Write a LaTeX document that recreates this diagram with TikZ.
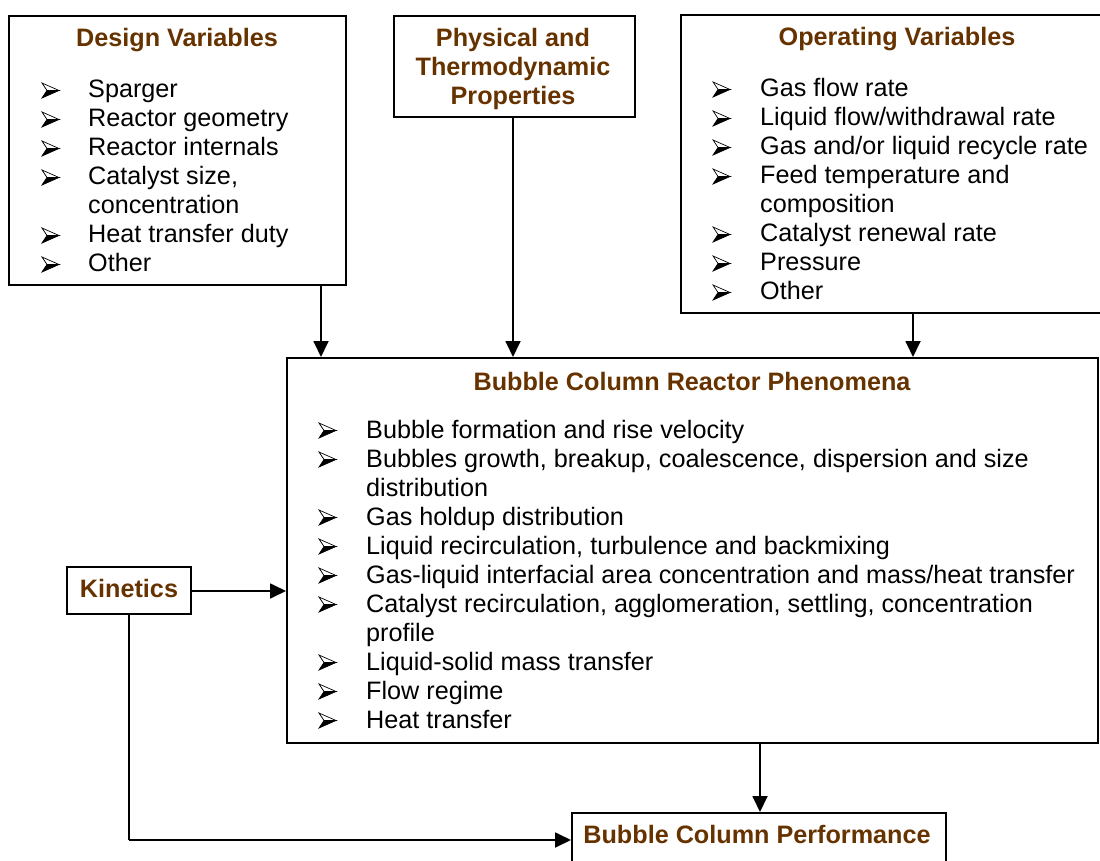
\documentclass[tikz,border=0pt]{standalone}
\usepackage{fontspec}
\setmainfont{Liberation Sans}
\usetikzlibrary{arrows.meta}
\definecolor{titlebrown}{HTML}{663300}
\newcommand\listfont{\fontsize{25.2}{29}\selectfont}
\tikzset{
  box/.style={draw, line width=2pt, anchor=north west, inner sep=0pt},
  boxtitle/.style={font=\fontsize{25.2}{29}\selectfont\bfseries, text=titlebrown, anchor=base, inner sep=0pt, align=center},
  itemlist/.style={anchor=base west, inner sep=0pt, font=\listfont, align=left},
  arr/.style={line width=1.8pt, -{Triangle[length=16pt,width=15pt]}},
  link/.style={line width=1.8pt},
  % three-d arrowhead bullet, origin on the text baseline
  pics/bullet/.style={code={
    \filldraw[line width=0.7pt, line join=miter, fill=white] (0,-15) -- (17,-7.5) -- (5,-7.5) -- cycle;
    \filldraw[line width=0.7pt, line join=miter] (0,0) -- (17,-7.5) -- (5,-7.5) -- cycle;
  }}
}
\begin{document}
\begin{tikzpicture}[x=1pt,y=-1pt]
\useasboundingbox (0,0) rectangle (1100,861);

% boxes
\node[box, minimum width=337pt, minimum height=269pt] (design) at (8,15) {};
\node[box, minimum width=241pt, minimum height=101pt] (phys) at (393,15) {};
\node[box, minimum width=430pt, minimum height=298pt] (oper) at (680,14) {};
\node[box, minimum width=811pt, minimum height=385pt] (main) at (286,357) {};
\node[box, minimum width=124pt, minimum height=47pt] (kin) at (66,566) {};
\node[box, minimum width=374pt, minimum height=60pt] (perf) at (571,812) {};

% titles
\node[boxtitle] (designT) at (177,47) {Design Variables};
\node[boxtitle] (physT1) at (513,47) {Physical and};
\node[boxtitle] (physT2) at (513,76) {Thermodynamic};
\node[boxtitle] (physT3) at (513,105) {Properties};
\node[boxtitle] (operT) at (897,46) {Operating Variables};
\node[boxtitle] (mainT) at (692,390) {Bubble Column Reactor Phenomena};
\node[boxtitle] (kinT) at (129,597) {Kinetics};
\node[boxtitle] (perfT) at (757,843) {Bubble Column Performance};

% lists
\node[itemlist] (designL) at (88,98) {\listfont\begin{tabular}[t]{@{}l@{}}
Sparger\\
Reactor geometry\\
Reactor internals\\
Catalyst size,\\
concentration\\
Heat transfer duty\\
Other
\end{tabular}};
\foreach \k in {0,1,2,3,5,6}
  \pic (designB\k) at (42,98+29*\k) {bullet};

\node[itemlist] (operL) at (760,97) {\listfont\begin{tabular}[t]{@{}l@{}}
Gas flow rate\\
Liquid flow/withdrawal rate\\
Gas and/or liquid recycle rate\\
Feed temperature and\\
composition\\
Catalyst renewal rate\\
Pressure\\
Other
\end{tabular}};
\foreach \k in {0,1,2,3,5,6,7}
  \pic (operB\k) at (713,97+29*\k) {bullet};

\node[itemlist] (mainL) at (366,438) {\listfont\begin{tabular}[t]{@{}l@{}}
Bubble formation and rise velocity\\
Bubbles growth, breakup, coalescence, dispersion and size\\
distribution\\
Gas holdup distribution\\
Liquid recirculation, turbulence and backmixing\\
Gas-liquid interfacial area concentration and mass/heat transfer\\
Catalyst recirculation, agglomeration, settling, concentration\\
profile\\
Liquid-solid mass transfer\\
Flow regime\\
Heat transfer
\end{tabular}};
\foreach \k in {0,1,3,4,5,6,8,9,10}
  \pic (mainB\k) at (319,438+29*\k) {bullet};

% connectors
\coordinate (kinCorner) at (129,840);
\draw[arr] (design.south -| 321,0) -- (main.north -| 321,0);
\draw[arr] (phys.south -| 513,0) -- (main.north -| 513,0);
\draw[arr] (oper.south -| 913,0) -- (main.north -| 913,0);
\draw[arr] (kin.east |- 0,591) -- (main.west |- 0,591);
\draw[arr] (main.south -| 760,0) -- (perf.north -| 760,0);
\draw[link] (kin.south -| kinCorner) -- (kinCorner);
\draw[arr] (kinCorner) -- (perf.west |- kinCorner);
\end{tikzpicture}
\end{document}
